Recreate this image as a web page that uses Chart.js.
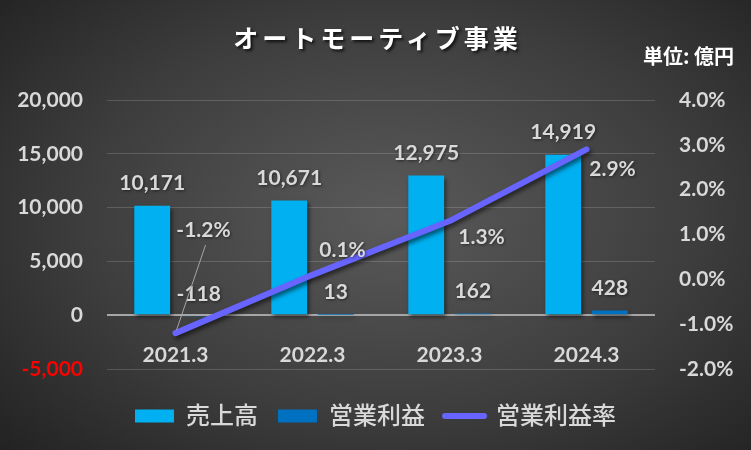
<!DOCTYPE html>
<html>
<head>
<meta charset="utf-8">
<script src="https://cdn.jsdelivr.net/npm/chart.js@4.4.0/dist/chart.umd.min.js"></script>
<style>
html, body { margin: 0; padding: 0; }
#wrap {
  position: relative; width: 751px; height: 450px; overflow: hidden;
  background: radial-gradient(ellipse 75% 80% at 52% 48%, #5a5a5a 0%, #3d3d3d 55%, #1f1f1f 100%);
}
#title {
  position: absolute; left: 0; top: 19px; width: 751px; text-align: center;
  font: bold 25px "Noto Sans CJK JP", sans-serif; letter-spacing: 4px; padding-left: 4px; box-sizing: border-box;
  color: #fff; text-shadow: 2px 2px 3px rgba(0,0,0,0.75);
}
#unit {
  position: absolute; right: 17px; top: 41px;
  font: bold 20px "Noto Sans CJK JP", sans-serif; color: #fff;
}
canvas { position: absolute; left: 0; top: 0; }
</style>
</head>
<body>
<div id="wrap">
  <canvas id="chart" width="751" height="450"></canvas>
  <div id="title">オートモーティブ事業</div>
  <div id="unit">単位: 億円</div>
</div>
<script>
// data
var years = ['2021.3', '2022.3', '2023.3', '2024.3'];
var sales = [10171, 10671, 12975, 14919];      // 売上高
var opProfit = [-118, 13, 162, 428];          // 営業利益
var opMargin = [-1.2, 0.1, 1.3, 2.9];         // 営業利益率 (%)
var seriesNames = ['売上高', '営業利益', '営業利益率'];

var fontStack = "Lato, 'Noto Sans CJK JP', sans-serif";
var textGray = '#d9d9d9';
var salesColor = '#00B0F0';
var profitColor = '#0070C0';
var lineColor = '#6864FF';

// where the % labels sit relative to their point
var pctLabelOffsets = [[28, -103], [30, -25], [32, 16], [26, 20]];

var shadowPlugin = {
  id: 'shadow',
  beforeDatasetDraw: function (chart) {
    var ctx = chart.ctx;
    ctx.save();
    ctx.shadowColor = 'rgba(0,0,0,0.55)';
    ctx.shadowBlur = 4;
    ctx.shadowOffsetX = 2;
    ctx.shadowOffsetY = 3;
  },
  afterDatasetDraw: function (chart) {
    chart.ctx.restore();
  }
};

var labelPlugin = {
  id: 'valueLabels',
  afterDatasetsDraw: function (chart) {
    var ctx = chart.ctx;
    ctx.save();
    ctx.font = 'bold 21px ' + fontStack;
    ctx.fillStyle = textGray;
    ctx.textAlign = 'center';
    ctx.textBaseline = 'middle';
    ctx.shadowColor = 'rgba(0,0,0,0.5)';
    ctx.shadowBlur = 3;
    ctx.shadowOffsetX = 1;
    ctx.shadowOffsetY = 1;

    chart.getDatasetMeta(0).data.forEach(function (el, i) {
      ctx.fillText(sales[i].toLocaleString('en-US'), el.x, el.y - 22.5);
    });
    chart.getDatasetMeta(1).data.forEach(function (el, i) {
      ctx.fillText(opProfit[i].toLocaleString('en-US'), el.x, Math.min(el.y, el.base) - 22);
    });
    chart.getDatasetMeta(2).data.forEach(function (el, i) {
      var o = pctLabelOffsets[i];
      ctx.fillText(opMargin[i].toFixed(1) + '%', el.x + o[0], el.y + o[1]);
      if (i === 0) {
        // leader line
        ctx.save();
        ctx.shadowColor = 'transparent';
        ctx.strokeStyle = '#a6a6a6';
        ctx.lineWidth = 1;
        ctx.beginPath();
        ctx.moveTo(el.x + o[0] + 2, el.y + o[1] + 15);
        ctx.lineTo(el.x + 1, el.y - 3);
        ctx.stroke();
        ctx.restore();
      }
    });
    ctx.restore();
  }
};

var ctx = document.getElementById('chart').getContext('2d');
var chart = new Chart(ctx, {
  type: 'bar',
  data: {
    labels: years,
    datasets: [{
      label: seriesNames[0],
      data: sales,
      backgroundColor: salesColor,
      yAxisID: 'y',
      order: 2,
      categoryPercentage: 0.68,
      barPercentage: 0.77
    }, {
      label: seriesNames[1],
      data: opProfit,
      backgroundColor: profitColor,
      yAxisID: 'y',
      order: 3,
      categoryPercentage: 0.68,
      barPercentage: 0.77
    }, {
      type: 'line',
      label: seriesNames[2],
      data: opMargin,
      borderColor: lineColor,
      backgroundColor: lineColor,
      borderWidth: 6,
      borderCapStyle: 'round',
      borderJoinStyle: 'round',
      pointRadius: 0,
      tension: 0,
      yAxisID: 'y1',
      order: 1
    }]
  },
  options: {
    responsive: false,
    devicePixelRatio: 1,
    animation: false,
    layout: { padding: { top: 100, bottom: 12, left: 0, right: 0 } },
    plugins: {
      title: { display: false },
      tooltip: { enabled: false },
      legend: {
        position: 'bottom',
        title: { display: true, text: ' ', font: { size: 5 }, padding: { top: 9, bottom: 0 } },
        labels: {
          color: textGray,
          font: { family: fontStack, size: 24, weight: '500' },
          usePointStyle: true,
          pointStyleWidth: 39,
          boxHeight: 13,
          padding: 20,
          sort: function (a, b) { return a.datasetIndex - b.datasetIndex; },
          generateLabels: function (chart) {
            var items = Chart.defaults.plugins.legend.labels.generateLabels(chart);
            items.forEach(function (it) {
              if (it.datasetIndex === 2) {
                it.pointStyle = 'line';
                it.lineWidth = 6;
                it.strokeStyle = lineColor;
                it.lineCap = 'round';
              } else {
                it.pointStyle = 'rect';
                it.lineWidth = 0;
              }
            });
            return items;
          }
        }
      }
    },
    scales: {
      x: {
        type: 'category',
        position: { y: 0 },
        offset: true,
        grid: { display: false },
        border: { display: false },
        ticks: {
          color: textGray,
          padding: 19,
          font: { family: fontStack, size: 21, weight: 'bold' }
        }
      },
      y: {
        position: 'left',
        min: -5000,
        max: 20000,
        border: { display: false },
        grid: {
          drawTicks: false,
          color: function (c) { return c.tick && c.tick.value === 0 ? '#a6a6a6' : 'rgba(255,255,255,0.16)'; },
          lineWidth: function (c) { return c.tick && c.tick.value === 0 ? 2 : 1; }
        },
        ticks: {
          stepSize: 5000,
          padding: 24,
          color: function (c) { return c.tick.value < 0 ? '#FF0000' : textGray; },
          font: { family: fontStack, size: 21, weight: 'bold' },
          callback: function (v) { return Number(v).toLocaleString('en-US'); }
        },
        afterFit: function (s) { s.width = 107; }
      },
      y1: {
        position: 'right',
        min: -2,
        max: 4,
        border: { display: false },
        grid: { drawOnChartArea: false, drawTicks: false },
        ticks: {
          stepSize: 1,
          padding: 24,
          color: textGray,
          font: { family: fontStack, size: 21, weight: 'bold' },
          callback: function (v) { return Number(v).toFixed(1) + '%'; }
        },
        afterFit: function (s) { s.width = 96; }
      }
    }
  },
  plugins: [shadowPlugin, labelPlugin]
});
</script>
</body>
</html>
